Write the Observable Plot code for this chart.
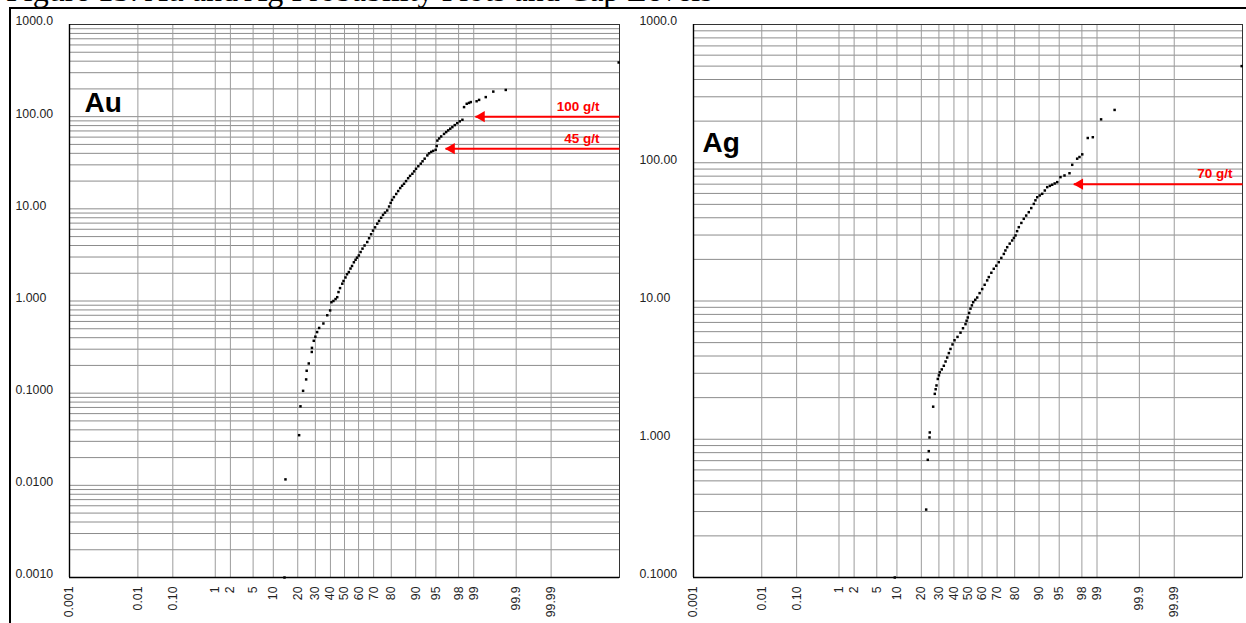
<!DOCTYPE html>
<html><head><meta charset="utf-8">
<script src="https://cdn.jsdelivr.net/npm/d3@7"></script>
<script src="https://cdn.jsdelivr.net/npm/@observablehq/plot@0.6"></script>
<style>
html,body{margin:0;padding:0;background:#fff;}
body{width:1246px;height:623px;overflow:hidden;position:relative;font-family:"Liberation Sans",Arial,sans-serif;}
#title{position:absolute;left:6px;top:-26px;font-size:32px;line-height:32px;font-family:"Liberation Serif","Times New Roman",serif;white-space:nowrap;color:#000;}
#rule-top{position:absolute;left:9px;right:0;top:7px;border-top:2px solid #000;}
#rule-left{position:absolute;left:9px;top:7px;bottom:0;border-left:2px solid #000;}
#au{position:absolute;left:10px;top:8px;}
#ag{position:absolute;left:630px;top:8px;}
</style></head><body>
<div id="title">Figure 13: Au and Ag Probability Plots and Cap Levels</div>
<div id="rule-top"></div>
<div id="rule-left"></div>
<div id="au"></div>
<div id="ag"></div>
<script>
// ---- x axis (cumulative probability, %) ----
const xTickPct = [0.001, 0.01, 0.1, 1, 2, 5, 10, 20, 30, 40, 50, 60, 70, 80, 90, 95, 98, 99, 99.9, 99.99];
const xTickLabels = ["0.001", "0.01", "0.10", "1", "2", "5", "10", "20", "30", "40", "50", "60", "70", "80", "90", "95", "98", "99", "99.9", "99.99"];

// ---- Au ----
const auYTicks = [1000, 100, 10, 1, 0.1, 0.01, 0.001];
const auYLabels = ["1000.0", "100.00", "10.00", "1.000", "0.1000", "0.0100", "0.0010"];
const auPct = [14.0, 14.4, 20.7, 21.4, 22.8, 24.5, 24.8, 26.0, 27.8, 27.9, 29.0, 30.0, 31.1, 32.4, 35.2, 37.8, 39.8,
  40.7, 42.1, 43.6, 44.8, 45.7, 46.8, 48.4, 49.3, 50.7, 51.8, 53.1, 54.3, 55.4, 56.7, 57.9, 58.9, 60.2, 61.4, 62.7, 64.1,
  65.9, 67.1, 68.4, 69.6, 70.9, 72.2, 73.3, 74.5, 75.6, 76.7, 77.9, 78.9, 79.7, 80.4, 81.3, 82.4, 83.3, 84.2, 85.0, 85.8,
  86.6, 87.4, 88.1, 88.9, 89.5, 90.1, 90.8, 91.5, 92.0, 92.55, 93.2, 93.6, 94.06, 94.48, 94.96, 95.15, 95.27, 95.58, 95.91,
  96.34, 96.64, 96.90, 97.15, 97.39, 97.64, 97.88, 98.10, 98.31, 98.43, 98.61, 98.75, 98.85, 99.13, 99.23, 99.45, 99.63,
  99.815, 99.99996];
const auVal = [0.001, 0.0116, 0.035, 0.072, 0.106, 0.141, 0.175, 0.21, 0.28, 0.31, 0.37, 0.41, 0.46, 0.51, 0.57, 0.70, 0.79,
  0.97, 1.0, 1.05, 1.10, 1.25, 1.38, 1.54, 1.65, 1.8, 1.95, 2.06, 2.25, 2.4, 2.63, 2.8, 2.95, 3.12, 3.4, 3.7, 4.0,
  4.36, 4.8, 5.3, 5.8, 6.3, 6.9, 7.4, 8.0, 8.6, 9.1, 9.6, 10.6, 11.6, 12.5, 13.4, 14.5, 15.6, 16.8, 17.8, 18.7,
  20.0, 21.5, 22.8, 24, 25.5, 27.2, 29, 30.9, 32.8, 35, 38, 40, 41.5, 42.5, 43.7, 48, 55, 58, 61,
  65, 68, 71, 74, 77, 81, 85, 89, 92.5, 127, 138, 141, 144, 147, 152, 163, 187,
  195, 387];
const auCaps = [100, 45];
const auCapLabels = ["100 g/t", "45 g/t"];
const auCapTipPct = [99.08, 96.55];

// ---- Ag ----
const agYTicks = [1000, 100, 10, 1, 0.1];
const agYLabels = ["1000.0", "100.00", "10.00", "1.000", "0.1000"];
const agPct = [9.34, 22.54, 23.42, 23.98, 24.38, 24.54, 26.50, 27.46, 28.0, 28.50, 29.29, 30.0, 30.55, 31.8, 33.14, 34.3,
  35.38, 36.5, 37.61, 39.0, 40.39, 42.5, 44.62, 46.4, 48.21, 49.0, 49.86, 50.8, 51.79, 52.8, 53.74, 55.2, 56.59, 58.3,
  60.10, 61.8, 63.53, 64.62, 66.3, 67.90, 69.5, 71.06, 72.6, 74.09, 75.0, 76.02, 77.4, 78.72, 79.6, 80.42, 81.2, 82.02,
  83.2, 84.28, 85.3, 86.35, 87.3, 88.24, 88.8, 89.40, 90.2, 90.96, 91.7, 92.34, 93.0, 93.55, 94.1, 94.62, 95.23, 95.91,
  96.64, 96.99, 97.55, 97.78, 98.03, 98.46, 98.78, 99.18, 99.59, 99.99996];
const agVal = [0.1, 0.31, 0.71, 0.82, 1.03, 1.12, 1.72, 2.13, 2.3, 2.45, 2.73, 2.9, 3.05, 3.2, 3.4, 3.65,
  3.9, 4.2, 4.5, 4.85, 5.2, 5.5, 5.9, 6.35, 6.8, 7.2, 7.6, 8.2, 8.8, 9.3, 9.8, 10.2, 10.6, 11.4,
  12.2, 13.1, 14.1, 14.9, 16.0, 17.1, 18.0, 19.1, 20.5, 21.9, 23.2, 24.5, 26.0, 27.4, 28.6, 29.8, 32.0, 34.2,
  36.7, 39.3, 41.5, 43.9, 47.0, 50.4, 53.5, 56.3, 58.0, 59.6, 63.0, 66.6, 68.0, 69.3, 70.8, 72.4, 78.7, 80.9,
  84, 96.6, 107, 110, 115, 151, 153, 206, 241, 500];
const agCaps = [70];
const agCapLabels = ["70 g/t"];
const agCapTipPct = [97.18];

// ---- probability scale (inverse normal CDF) ----
const X_MIN = -4.95, X_MAX = 4.95;
function probit(p) {
  const a = [-3.969683028665376e+01, 2.209460984245205e+02, -2.759285104469687e+02, 1.383577518672690e+02, -3.066479806614716e+01, 2.506628277459239e+00];
  const b = [-5.447609879822406e+01, 1.615858368580409e+02, -1.556989798598866e+02, 6.680131188771972e+01, -1.328068155288572e+01];
  const c = [-7.784894002430293e-03, -3.223964580411365e-01, -2.400758277161838e+00, -2.549732539343734e+00, 4.374664141464968e+00, 2.938163982698783e+00];
  const d = [7.784695709041462e-03, 3.224671290700398e-01, 2.445134137142996e+00, 3.754408661907416e+00];
  const pl = 0.02425, ph = 1 - pl;
  if (p < pl) { const q = Math.sqrt(-2 * Math.log(p)); return (((((c[0]*q+c[1])*q+c[2])*q+c[3])*q+c[4])*q+c[5]) / ((((d[0]*q+d[1])*q+d[2])*q+d[3])*q+1); }
  if (p <= ph) { const q = p - 0.5, r = q*q; return (((((a[0]*r+a[1])*r+a[2])*r+a[3])*r+a[4])*r+a[5])*q / (((((b[0]*r+b[1])*r+b[2])*r+b[3])*r+b[4])*r+1); }
  const q = Math.sqrt(-2 * Math.log(1 - p)); return -(((((c[0]*q+c[1])*q+c[2])*q+c[3])*q+c[4])*q+c[5]) / ((((d[0]*q+d[1])*q+d[2])*q+d[3])*q+1);
}
const zOf = pct => probit(pct / 100);
// the chart's left edge carries the "0.001" label
const xTickZ = xTickPct.map((p, i) => i === 0 ? X_MIN : zOf(p));

function logGrid(lo, hi) {
  const out = [];
  for (let e = Math.round(Math.log10(lo)); e < Math.round(Math.log10(hi)); e++)
    for (let k = 1; k <= 9; k++) out.push(+(k * Math.pow(10, e)).toPrecision(6));
  out.push(hi);
  return out;
}

function panel(o) {
  const data = o.pct.map((p, i) => ({z: zOf(p), v: o.val[i]}));
  const yDomain = [o.yTicks[o.yTicks.length - 1], o.yTicks[0]];
  return Plot.plot({
    width: o.width, height: 615,
    marginLeft: o.marginLeft, marginRight: 4, marginTop: 16, marginBottom: 46,
    style: {fontFamily: '"Liberation Sans", Arial, sans-serif', background: "transparent", overflow: "visible"},
    x: {type: "linear", domain: [X_MIN, X_MAX], axis: null},
    y: {type: "log", domain: yDomain, axis: null},
    marks: [
      Plot.ruleY(logGrid(yDomain[0], yDomain[1]), {stroke: "#8c8c8c", strokeWidth: 1}),
      Plot.ruleX(xTickZ, {stroke: "#9c9c9c", strokeWidth: 1}),
      Plot.frame({stroke: "#333"}),
      Plot.ruleY([yDomain[0]], {stroke: "#000", strokeWidth: 1.6}),
      Plot.ruleX([X_MIN], {stroke: "#000", strokeWidth: 1.4}),
      Plot.text(o.yTicks, {y: d => d, text: (d, i) => o.yLabels[i], frameAnchor: "left", textAnchor: "start",
        dx: -54, dy: -3, fontSize: 12.3, fill: "#222"}),
      Plot.text(xTickZ, {x: d => d, text: (d, i) => xTickLabels[i], frameAnchor: "bottom", textAnchor: "end",
        lineAnchor: "middle", rotate: -90, dy: 9, fontSize: 12.3, fill: "#222"}),
      Plot.link(o.caps, {x1: (d, i) => zOf(o.capTipPct[i]), x2: () => X_MAX, y1: d => d, y2: d => d,
        stroke: "#ff0000", strokeWidth: 2}),
      Plot.dot(o.caps, {x: (d, i) => zOf(o.capTipPct[i]), y: d => d, symbol: "triangle", r: 4.2, rotate: -90,
        dx: 6, fill: "#ff0000", stroke: "none"}),
      Plot.text(o.caps, {y: d => d, text: (d, i) => o.capLabels[i], frameAnchor: "right", textAnchor: "end",
        dx: o.capDx, dy: -10, fill: "#ff0000", fontWeight: "bold", fontSize: 13.5}),
      Plot.dot(data, {x: "z", y: "v", symbol: "square", r: 1.4, fill: "#000", stroke: "none"}),
      Plot.text([o.name], {text: d => d, frameAnchor: "top-left", textAnchor: "start", lineAnchor: "top",
        dx: o.nameDx, dy: o.nameDy, fontSize: 28, fontWeight: "bold", fill: "#000"})
    ]
  });
}

document.getElementById("au").append(panel({
  pct: auPct, val: auVal, yTicks: auYTicks, yLabels: auYLabels,
  caps: auCaps, capLabels: auCapLabels, capTipPct: auCapTipPct,
  width: 613, marginLeft: 59, capDx: -20, name: "Au", nameDx: 15, nameDy: 68
}));
document.getElementById("ag").append(panel({
  pct: agPct, val: agVal, yTicks: agYTicks, yLabels: agYLabels,
  caps: agCaps, capLabels: agCapLabels, capTipPct: agCapTipPct,
  width: 616, marginLeft: 63, capDx: -10, name: "Ag", nameDx: 9, nameDy: 108
}));
</script>
</body></html>
